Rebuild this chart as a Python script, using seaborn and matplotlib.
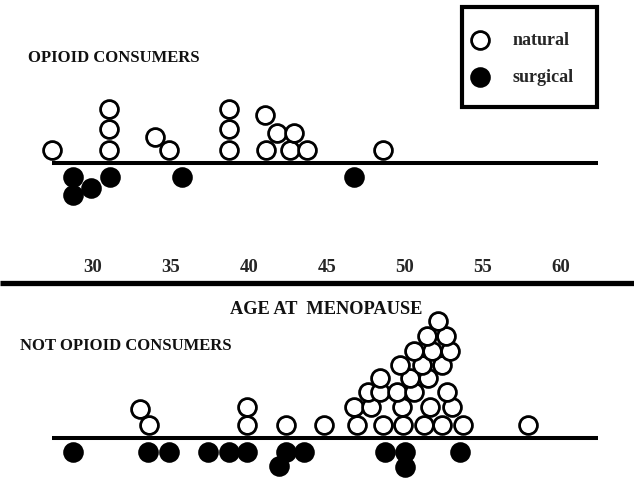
"""Edad a la menopausia: consumidoras vs no consumidoras de opioides (dot plot)."""

import pandas as pd
import matplotlib.pyplot as plt
import seaborn as sns
from matplotlib.patches import Rectangle

# edades; "row" = altura de apilado del punto (en diametros aprox.)
opioid_natural_age = [27.4, 31.0, 31.0, 31.0, 34.0, 34.9, 38.7, 38.7, 38.7,
                      41.0, 41.1, 41.8, 42.6, 42.9, 43.7, 48.6]
opioid_natural_row = [0, 0, 1.05, 2.05, 0.65, 0, 0, 1.05, 2.05,
                      1.75, 0, 0.85, 0, 0.85, 0, 0]
opioid_surgical_age = [28.7, 28.7, 29.9, 31.1, 35.7, 46.7]
opioid_surgical_row = [0, 1, 0.6, 0, 0, 0]

nonopioid_natural_age = [33.0, 33.6, 39.9, 39.9, 42.4, 44.8,
                         46.9, 48.6, 49.9, 51.2, 52.4, 53.7, 57.9,
                         46.7, 47.8, 49.8, 51.6, 53.0,
                         47.6, 48.4, 49.5, 50.6, 52.7,
                         48.4, 50.3, 51.5,
                         49.7, 51.1, 52.4,
                         50.6, 51.7, 52.9,
                         51.4, 52.6,
                         52.1]
nonopioid_natural_row = [0.8, 0, 0.9, 0, 0, 0,
                         0, 0, 0, 0, 0, 0, 0,
                         0.9, 0.9, 0.9, 0.9, 0.9,
                         1.65, 1.65, 1.65, 1.65, 1.65,
                         2.35, 2.35, 2.35,
                         3.0, 3.0, 3.0,
                         3.7, 3.7, 3.7,
                         4.45, 4.45,
                         5.2]
nonopioid_surgical_age = [28.7, 33.5, 34.9, 37.4, 38.7, 39.9, 41.9, 42.4,
                          43.5, 48.7, 50.0, 50.0, 53.5]
nonopioid_surgical_row = [0, 0, 0, 0, 0, 0, 0.8, 0, 0, 0, 0, 0.85, 0]

tick_ages = [30, 35, 40, 45, 50, 55, 60]
tick_labels = ["30", "35", "40", "45", "50", "55", "60"]


def armar_df():
    partes = []
    for grupo, tipo, edades, filas in [
        ("opioid", "natural", opioid_natural_age, opioid_natural_row),
        ("opioid", "surgical", opioid_surgical_age, opioid_surgical_row),
        ("not", "natural", nonopioid_natural_age, nonopioid_natural_row),
        ("not", "surgical", nonopioid_surgical_age, nonopioid_surgical_row),
    ]:
        partes.append(pd.DataFrame({"grupo": grupo, "tipo": tipo,
                                    "edad": edades, "fila": filas}))
    return pd.concat(partes, ignore_index=True)


def main():
    sns.set_style("white")
    plt.rcParams["font.family"] = ["Liberation Serif", "DejaVu Serif"]
    plt.rcParams["font.weight"] = "bold"

    df = armar_df()
    # linea base de cada panel (coordenadas en pixeles de la figura, y hacia abajo)
    base = {"opioid": 163, "not": 438}
    nat = df["tipo"] == "natural"
    df["y"] = df["grupo"].map(base)
    df.loc[nat, "y"] = df.loc[nat, "y"] - 13 - df.loc[nat, "fila"] * 20
    df.loc[~nat, "y"] = df.loc[~nat, "y"] + 14 + df.loc[~nat, "fila"] * 18

    fig = plt.figure(figsize=(6.34, 4.79), dpi=100)
    ax = fig.add_axes([0, 0, 1, 1])
    px_por_anio = 15.6
    x_izq = 45 - 327 / px_por_anio
    x_der = 45 + 307 / px_por_anio
    ax.set_xlim(x_izq, x_der)
    ax.set_ylim(479, 0)
    ax.axis("off")

    # lineas base y eje de edad
    x0 = 45 + (52 - 327) / px_por_anio
    x1 = 45 + (598 - 327) / px_por_anio
    for y in base.values():
        ax.hlines(y, x0, x1, color="black", lw=2.9, zorder=1)
    ax.hlines(283, x_izq, x_der, color="black", lw=3.8, zorder=1)
    for t, lab in zip(tick_ages, tick_labels):
        ax.text(t, 268, lab, ha="center", va="center", fontsize=13.5, fontweight="bold")

    sns.scatterplot(data=df[nat], x="edad", y="y", ax=ax, s=165, marker="o",
                    facecolor="white", edgecolor="black", linewidth=2.0,
                    zorder=3, label="natural", legend=False)
    sns.scatterplot(data=df[~nat], x="edad", y="y", ax=ax, s=165, marker="o",
                    facecolor="black", edgecolor="black", linewidth=2.0,
                    zorder=3, label="surgical", legend=False)

    ax.text(28 / 634, 1 - 58 / 479, "OPIOID CONSUMERS", transform=ax.transAxes,
            fontsize=12, fontweight="bold", va="center", ha="left", color="#111111")
    ax.text(20 / 634, 1 - 346 / 479, "NOT OPIOID CONSUMERS", transform=ax.transAxes,
            fontsize=12, fontweight="bold", va="center", ha="left", color="#111111")
    ax.text(230 / 634, 1 - 310 / 479, "AGE AT  MENOPAUSE", transform=ax.transAxes,
            fontsize=13.2, fontweight="bold", va="center", ha="left", color="#111111")

    # leyenda sin marco + recuadro grueso aparte
    handles, labels = ax.get_legend_handles_labels()
    ax.legend(handles, labels, loc="center left",
              bbox_to_anchor=(471 / 634, 1 - 59 / 479),
              fontsize=13, borderpad=0, labelspacing=1.1,
              handlelength=1.0, handletextpad=1.28, borderaxespad=0,
              frameon=False, markerscale=1.0)
    ax.add_patch(Rectangle((462 / 634, 1 - 107 / 479), 135 / 634, 100 / 479,
                           transform=ax.transAxes, fill=False,
                           edgecolor="black", lw=3, zorder=4))

    fig.savefig("out.png", dpi=100)
    plt.close(fig)


if __name__ == "__main__":
    main()
